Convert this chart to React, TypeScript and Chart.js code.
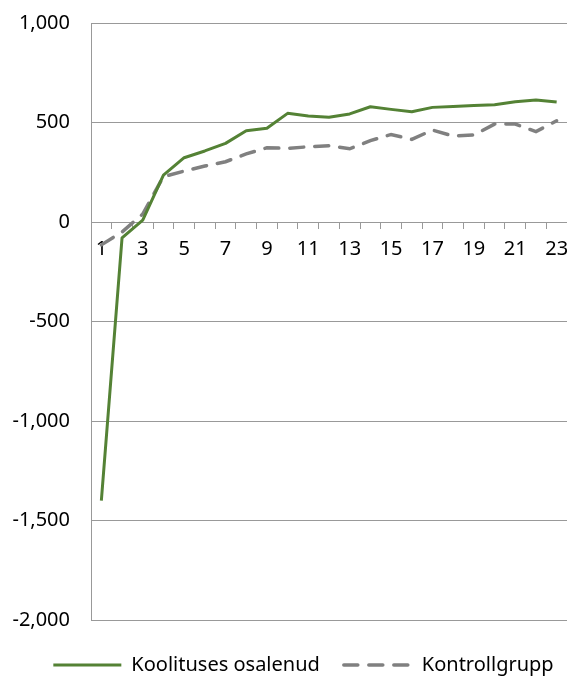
import React, { useEffect, useRef } from "react";
import { Chart, registerables } from "chart.js";

Chart.register(...registerables);

const periods = ["1", "2", "3", "4", "5", "6", "7", "8", "9", "10", "11", "12", "13", "14", "15", "16", "17", "18", "19", "20", "21", "22", "23"];
const trained = [-1400, -80, 10, 236, 323, 357, 395, 459, 471, 546, 533, 526, 543, 579, 566, 554, 576, 581, 586, 589, 604, 613, 603];
const control = [-115, -50, 40, 228, 256, 281, 303, 342, 373, 370, 378, 383, 368, 409, 440, 415, 462, 432, 437, 492, 492, 454, 509];
const seriesNames = ["Koolituses osalenud", "Kontrollgrupp"];
const yMin = -2000;
const yMax = 1000;
const yStep = 500;

const FONT = "'Noto Sans', sans-serif";

export default function App() {
  const ref = useRef<HTMLCanvasElement | null>(null);

  useEffect(() => {
    if (!ref.current) return;
    const legendShift = {
      id: "legendShift",
      afterLayout(chart: any) {
        const lg = chart.legend;
        if (!lg) return;
        lg.top += 11;
        lg.bottom += 11;
        lg.left += 20;
        lg.right += 20;
      },
    };
    const chart = new Chart(ref.current, {
      type: "line",
      data: {
        labels: periods,
        datasets: [
          {
            label: seriesNames[0],
            data: trained,
            borderColor: "#548235",
            backgroundColor: "#548235",
            borderWidth: 3,
            pointRadius: 0,
            tension: 0,
            borderJoinStyle: "round",
          },
          {
            label: seriesNames[1],
            data: control,
            borderColor: "#808080",
            backgroundColor: "#808080",
            borderWidth: 3.5,
            borderDash: [14, 11],
            borderCapStyle: "round",
            pointRadius: 0,
            tension: 0,
          },
        ],
      },
      options: {
        animation: false,
        responsive: true,
        maintainAspectRatio: false,
        layout: { padding: { top: 23, bottom: 7, left: 0, right: 0 } },
        plugins: {
          tooltip: { enabled: false },
          legend: {
            position: "bottom",
            labels: {
              usePointStyle: true,
              pointStyleWidth: 68,
              padding: 24,
              color: "#000",
              font: { family: FONT, size: 20 },
              generateLabels: (c: any) =>
                c.data.datasets.map((ds: any, i: number) => ({
                  text: ds.label,
                  fillStyle: ds.borderColor,
                  strokeStyle: ds.borderColor,
                  lineWidth: ds.borderWidth,
                  lineDash: ds.borderDash || [],
                  lineCap: ds.borderDash ? "round" : "butt",
                  pointStyle: "line",
                  hidden: false,
                  fontColor: "#000",
                  datasetIndex: i,
                })),
            },
          },
        },
        scales: {
          x: {
            type: "category",
            position: { y: 0 } as any,
            offset: true,
            afterFit: (s: any) => {
              s.paddingLeft = 0;
              s.paddingRight = 0;
            },
            grid: {
              display: true,
              drawOnChartArea: false,
              drawTicks: true,
              tickLength: 6,
              offset: true,
              color: "#999999",
            },
            border: { display: true, color: "#999999", width: 1 },
            ticks: {
              autoSkip: false,
              maxRotation: 0,
              padding: 9,
              color: "#000",
              font: { family: FONT, size: 20 },
              callback: (_v: any, i: number) => (i % 2 === 0 ? periods[i] : ""),
            },
          },
          y: {
            min: yMin,
            max: yMax,
            afterFit: (s: any) => {
              s.width = 91;
              s.paddingTop = 0;
              s.paddingBottom = 0;
            },
            grid: {
              color: "#999999",
              drawTicks: false,
              lineWidth: 1,
            },
            border: { display: true, color: "#999999", width: 1 },
            ticks: {
              stepSize: yStep,
              padding: 21,
              color: "#000",
              font: { family: FONT, size: 20 },
              callback: (v: any) => Number(v).toLocaleString("en-US"),
            },
          },
        },
      },
      plugins: [legendShift],
    } as any);
    return () => chart.destroy();
  }, []);

  return (
    <div style={{ position: "fixed", left: 0, top: 0, width: 567, height: 681 }}>
      <canvas ref={ref} />
    </div>
  );
}
